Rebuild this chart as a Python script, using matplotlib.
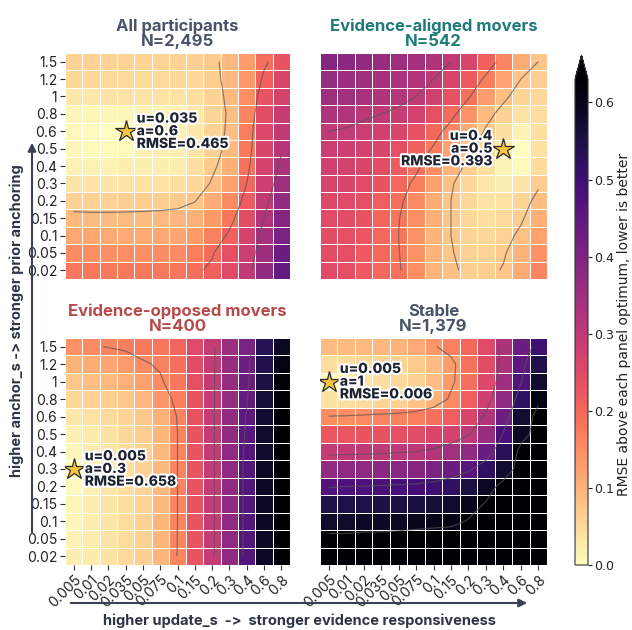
import numpy as np
import matplotlib
matplotlib.use("Agg")
import matplotlib.pyplot as plt
import matplotlib.patheffects as pe

plt.rcParams['font.family'] = ['Inter', 'DejaVu Sans']

# ---------------- data ----------------
u_labels = ['0.005', '0.01', '0.02', '0.035', '0.05', '0.075', '0.1', '0.15',
            '0.2', '0.3', '0.4', '0.6', '0.8']
# rows listed from top (a=1.5) to bottom (a=0.02)
a_labels = ['1.5', '1.2', '1', '0.8', '0.6', '0.5', '0.4', '0.3', '0.2',
            '0.15', '0.1', '0.05', '0.02']

titles = ['All participants', 'Evidence-aligned movers',
          'Evidence-opposed movers', 'Stable']
group_n = ['2,495', '542', '400', '1,379']
title_colors = ['#4a5468', '#1f7a7a', '#b84a4a', '#4a5468']

best_u = ['0.035', '0.4', '0.005', '0.005']
best_a = ['0.6', '0.5', '0.3', '1']
best_rmse = ['0.465', '0.393', '0.658', '0.006']

grid_all = [
    [0.060, 0.060, 0.058, 0.058, 0.058, 0.058, 0.060, 0.063, 0.070, 0.095, 0.130, 0.190, 0.230],
    [0.050, 0.050, 0.048, 0.047, 0.047, 0.048, 0.050, 0.053, 0.065, 0.095, 0.140, 0.210, 0.260],
    [0.030, 0.030, 0.035, 0.035, 0.035, 0.035, 0.037, 0.042, 0.060, 0.090, 0.150, 0.230, 0.270],
    [0.010, 0.010, 0.010, 0.012, 0.015, 0.015, 0.018, 0.030, 0.055, 0.086, 0.160, 0.245, 0.290],
    [0.005, 0.004, 0.002, 0.000, 0.012, 0.015, 0.018, 0.030, 0.058, 0.088, 0.170, 0.255, 0.300],
    [0.008, 0.007, 0.006, 0.005, 0.018, 0.020, 0.022, 0.035, 0.062, 0.092, 0.175, 0.260, 0.315],
    [0.015, 0.015, 0.016, 0.020, 0.020, 0.021, 0.024, 0.040, 0.070, 0.105, 0.185, 0.270, 0.330],
    [0.033, 0.033, 0.034, 0.036, 0.037, 0.038, 0.040, 0.050, 0.085, 0.125, 0.200, 0.280, 0.350],
    [0.060, 0.060, 0.060, 0.062, 0.064, 0.065, 0.067, 0.078, 0.110, 0.155, 0.220, 0.300, 0.370],
    [0.092, 0.090, 0.090, 0.090, 0.090, 0.092, 0.095, 0.105, 0.135, 0.180, 0.245, 0.320, 0.390],
    [0.118, 0.116, 0.115, 0.115, 0.115, 0.116, 0.120, 0.135, 0.165, 0.210, 0.270, 0.340, 0.410],
    [0.152, 0.150, 0.150, 0.150, 0.150, 0.152, 0.155, 0.170, 0.195, 0.240, 0.285, 0.355, 0.430],
    [0.178, 0.176, 0.175, 0.175, 0.175, 0.176, 0.180, 0.190, 0.210, 0.250, 0.300, 0.370, 0.440],
]

grid_aligned = [
    [0.390, 0.380, 0.370, 0.360, 0.350, 0.340, 0.325, 0.300, 0.260, 0.210, 0.160, 0.110, 0.075],
    [0.365, 0.355, 0.350, 0.340, 0.330, 0.320, 0.300, 0.265, 0.220, 0.170, 0.120, 0.075, 0.062],
    [0.350, 0.345, 0.335, 0.325, 0.315, 0.300, 0.275, 0.235, 0.185, 0.130, 0.085, 0.055, 0.050],
    [0.325, 0.320, 0.310, 0.300, 0.290, 0.270, 0.240, 0.195, 0.145, 0.090, 0.060, 0.035, 0.042],
    [0.300, 0.295, 0.285, 0.275, 0.260, 0.235, 0.200, 0.160, 0.110, 0.070, 0.040, 0.015, 0.040],
    [0.285, 0.280, 0.270, 0.260, 0.240, 0.210, 0.175, 0.125, 0.085, 0.055, 0.025, 0.000, 0.037],
    [0.275, 0.270, 0.260, 0.245, 0.220, 0.190, 0.150, 0.100, 0.065, 0.040, 0.013, 0.006, 0.045],
    [0.265, 0.260, 0.250, 0.230, 0.200, 0.170, 0.125, 0.080, 0.050, 0.030, 0.020, 0.032, 0.068],
    [0.255, 0.250, 0.240, 0.215, 0.190, 0.155, 0.110, 0.075, 0.050, 0.035, 0.038, 0.055, 0.088],
    [0.250, 0.245, 0.230, 0.205, 0.182, 0.148, 0.105, 0.075, 0.052, 0.042, 0.048, 0.068, 0.105],
    [0.245, 0.240, 0.225, 0.200, 0.180, 0.145, 0.100, 0.075, 0.055, 0.050, 0.058, 0.085, 0.125],
    [0.245, 0.240, 0.220, 0.200, 0.182, 0.145, 0.100, 0.078, 0.060, 0.058, 0.070, 0.100, 0.145],
    [0.250, 0.240, 0.220, 0.200, 0.185, 0.148, 0.100, 0.082, 0.066, 0.064, 0.078, 0.110, 0.160],
]

grid_opposed = [
    [0.145, 0.155, 0.162, 0.168, 0.175, 0.182, 0.205, 0.250, 0.295, 0.355, 0.410, 0.535, 0.590],
    [0.100, 0.110, 0.120, 0.135, 0.155, 0.165, 0.190, 0.245, 0.295, 0.360, 0.425, 0.545, 0.610],
    [0.075, 0.085, 0.092, 0.105, 0.125, 0.155, 0.180, 0.240, 0.295, 0.365, 0.430, 0.555, 0.625],
    [0.050, 0.057, 0.065, 0.075, 0.095, 0.140, 0.170, 0.235, 0.295, 0.365, 0.440, 0.567, 0.640],
    [0.030, 0.038, 0.047, 0.056, 0.072, 0.105, 0.163, 0.235, 0.295, 0.370, 0.450, 0.575, 0.660],
    [0.018, 0.027, 0.038, 0.050, 0.065, 0.097, 0.160, 0.230, 0.295, 0.370, 0.455, 0.580, 0.670],
    [0.008, 0.020, 0.033, 0.045, 0.060, 0.095, 0.160, 0.230, 0.295, 0.375, 0.460, 0.580, 0.680],
    [0.000, 0.018, 0.032, 0.043, 0.060, 0.095, 0.160, 0.230, 0.295, 0.375, 0.465, 0.585, 0.680],
    [0.004, 0.018, 0.032, 0.043, 0.058, 0.095, 0.160, 0.230, 0.295, 0.375, 0.465, 0.585, 0.690],
    [0.008, 0.020, 0.033, 0.044, 0.059, 0.095, 0.160, 0.230, 0.295, 0.375, 0.465, 0.585, 0.690],
    [0.012, 0.022, 0.034, 0.045, 0.060, 0.096, 0.160, 0.230, 0.295, 0.375, 0.465, 0.585, 0.690],
    [0.016, 0.024, 0.036, 0.046, 0.061, 0.097, 0.161, 0.230, 0.295, 0.375, 0.465, 0.585, 0.690],
    [0.020, 0.027, 0.037, 0.047, 0.062, 0.098, 0.162, 0.230, 0.295, 0.375, 0.465, 0.585, 0.690],
]

grid_stable = [
    [0.090, 0.090, 0.092, 0.095, 0.100, 0.115, 0.140, 0.165, 0.200, 0.250, 0.330, 0.430, 0.500],
    [0.042, 0.046, 0.050, 0.055, 0.060, 0.070, 0.090, 0.130, 0.185, 0.245, 0.330, 0.450, 0.545],
    [0.000, 0.020, 0.033, 0.042, 0.050, 0.060, 0.088, 0.133, 0.190, 0.255, 0.350, 0.470, 0.575],
    [0.038, 0.042, 0.048, 0.055, 0.062, 0.080, 0.105, 0.155, 0.215, 0.280, 0.375, 0.520, 0.610],
    [0.148, 0.150, 0.155, 0.160, 0.165, 0.172, 0.190, 0.215, 0.260, 0.320, 0.425, 0.570, 0.650],
    [0.225, 0.226, 0.230, 0.232, 0.238, 0.245, 0.258, 0.270, 0.305, 0.360, 0.480, 0.590, 0.660],
    [0.295, 0.296, 0.298, 0.300, 0.305, 0.310, 0.320, 0.345, 0.370, 0.430, 0.530, 0.650, 0.700],
    [0.370, 0.375, 0.376, 0.380, 0.385, 0.390, 0.405, 0.430, 0.460, 0.520, 0.575, 0.660, 0.720],
    [0.470, 0.475, 0.477, 0.480, 0.485, 0.490, 0.500, 0.520, 0.555, 0.590, 0.650, 0.700, 0.750],
    [0.545, 0.548, 0.550, 0.552, 0.555, 0.558, 0.565, 0.575, 0.595, 0.630, 0.680, 0.730, 0.780],
    [0.580, 0.580, 0.585, 0.587, 0.590, 0.595, 0.600, 0.605, 0.630, 0.680, 0.720, 0.770, 0.820],
    [0.645, 0.645, 0.650, 0.650, 0.655, 0.660, 0.665, 0.670, 0.690, 0.730, 0.770, 0.820, 0.870],
    [0.700, 0.700, 0.705, 0.710, 0.710, 0.715, 0.720, 0.730, 0.750, 0.780, 0.820, 0.870, 0.920],
]

grids = [grid_all, grid_aligned, grid_opposed, grid_stable]
contour_levels = [[0.08, 0.2, 0.32], [0.075, 0.18, 0.3],
                  [0.16, 0.305, 0.445], [0.145, 0.31, 0.475, 0.625]]
label_side = ['right', 'left', 'right', 'right']

VMAX = 0.63
cmap = plt.get_cmap('magma_r')

# ---------------- figure ----------------
W, H = 632, 630
fig = plt.figure(figsize=(W / 100, H / 100), dpi=100)

def fx(px):
    return px / W

def fy(py):
    return 1 - py / H

boxes = [(65, 53, 290, 279), (320, 53, 547, 279),
         (65, 338, 290, 565), (320, 338, 547, 565)]

nx, ny = len(u_labels), len(a_labels)
mesh = None
for k in range(4):
    x0, y0, x1, y1 = boxes[k]
    ax = fig.add_axes([fx(x0), fy(y1), fx(x1) - fx(x0), fy(y0) - fy(y1)])
    Z = np.array(grids[k])
    mesh = ax.pcolormesh(np.arange(nx + 1), np.arange(ny + 1), Z, cmap=cmap,
                         vmin=0, vmax=VMAX, edgecolors='white', linewidth=0.5)
    xc = np.arange(nx) + 0.5
    yc = np.arange(ny) + 0.5
    ax.contour(xc, yc, Z, levels=contour_levels[k], colors='#555555',
               linewidths=0.85, alpha=0.7)
    ax.set_xlim(0, nx)
    ax.set_ylim(ny, 0)
    for s in ax.spines.values():
        s.set_visible(False)
    ax.set_xticks(xc)
    ax.set_yticks(yc)
    ax.tick_params(axis='both', width=0.8, length=3.5, color='#333333', pad=2)
    if k >= 2:
        ax.set_xticklabels(u_labels, rotation=45, ha='right',
                           rotation_mode='anchor', fontsize=10, color='#222222')
    else:
        ax.set_xticklabels([])
        ax.tick_params(axis='x', length=0)
    if k % 2 == 0:
        ax.set_yticklabels(a_labels, fontsize=10, color='#222222')
    else:
        ax.set_yticklabels([])
        ax.tick_params(axis='y', length=0)

    ax.set_title(f"{titles[k]}\nN={group_n[k]}", fontsize=12, fontweight='bold',
                 color=title_colors[k], pad=5, linespacing=1.0)

    # best cell
    bx = u_labels.index(best_u[k]) + 0.5
    by = a_labels.index(best_a[k]) + 0.5
    ax.plot([bx], [by], marker='*', markersize=16, color='#f5c542',
            markeredgecolor='#2b2b2b', markeredgewidth=0.9, zorder=5)
    txt = f"u={best_u[k]}\na={best_a[k]}\nRMSE={best_rmse[k]}"
    if label_side[k] == 'right':
        off, ha = (8, 0), 'left'
    else:
        off, ha = (-8, 0), 'right'
    ax.annotate(txt, (bx, by), xytext=off, textcoords='offset points',
                ha=ha, va='center', fontsize=10, fontweight='heavy',
                color='#1c2230', linespacing=0.88, zorder=6, multialignment=ha,
                path_effects=[pe.withStroke(linewidth=3, foreground='white')])

# colorbar
cax = fig.add_axes([fx(575), fy(565), fx(588) - fx(575), fy(55) - fy(565)])
cb = fig.colorbar(mesh, cax=cax, extend='max')
cb.set_ticks([0.0, 0.1, 0.2, 0.3, 0.4, 0.5, 0.6])
cb.ax.tick_params(labelsize=9, length=3, width=0.8, colors='#222222', pad=1.5)
for t in cb.ax.get_yticklabels():
    t.set_family(['DejaVu Sans'])
cb.outline.set_linewidth(0.8)
cb.outline.set_edgecolor('#333333')
fig.text(fx(624), fy(324), 'RMSE above each panel optimum, lower is better',
         rotation=90, ha='center', va='center', fontsize=10,
         color='#222222', family=['DejaVu Sans'])

# axis arrows and labels
arrow_color = '#3a4252'
fig.add_artist(matplotlib.patches.FancyArrowPatch(
    (fx(32), fy(535)), (fx(32), fy(140)), transform=fig.transFigure,
    arrowstyle='-|>', mutation_scale=12, color=arrow_color, lw=1.5))
fig.add_artist(matplotlib.patches.FancyArrowPatch(
    (fx(68), fy(603)), (fx(530), fy(603)), transform=fig.transFigure,
    arrowstyle='-|>', mutation_scale=12, color=arrow_color, lw=1.5))
fig.text(fx(17), fy(321), 'higher anchor_s -> stronger prior anchoring',
         rotation=90, ha='center', va='center', fontsize=10.5,
         fontweight='bold', color='#2d3446')
fig.text(fx(299), fy(621), 'higher update_s  ->  stronger evidence responsiveness',
         ha='center', va='center', fontsize=10.5, fontweight='bold',
         color='#2d3446')

fig.savefig('out.png', dpi=100)
